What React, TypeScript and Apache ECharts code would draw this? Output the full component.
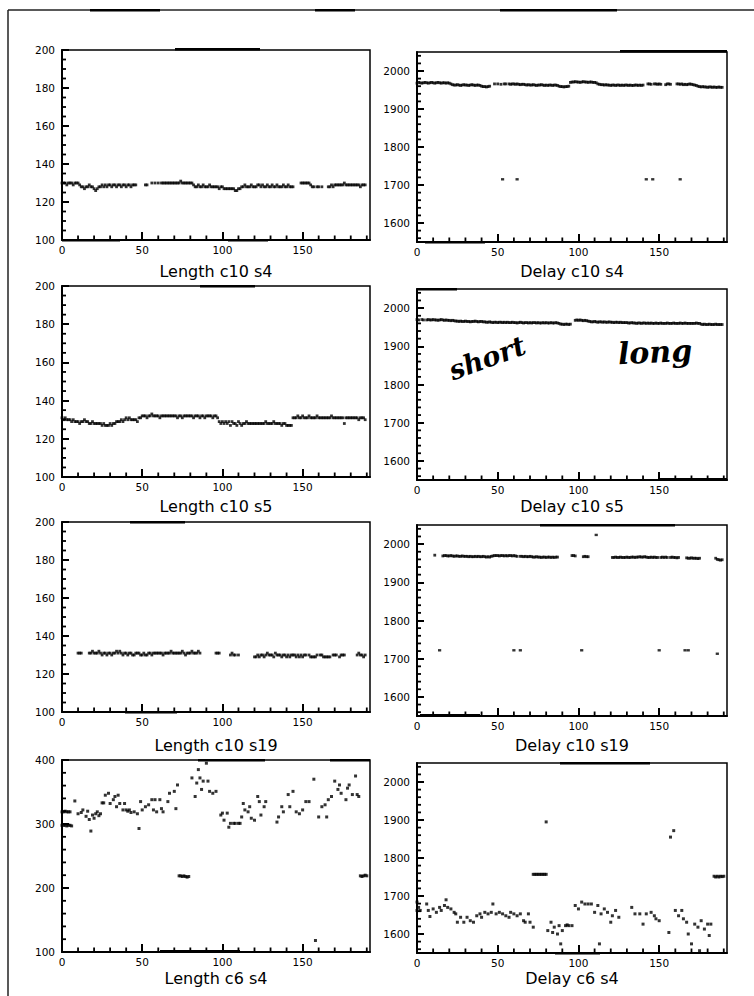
import React, { useEffect, useRef } from 'react';
import * as echarts from 'echarts';

// ---------- data (index = x value 0..189, null = no point) ----------
const lenC10S4: (number | null)[] = [
  130,130,130,129,130,130,130,129,130,130,
  130,129,128,128,127,128,128,129,128,128,
  127,126,127,128,128,129,128,129,128,129,
  129,128,129,129,128,129,129,128,129,129,
  128,129,129,128,129,129,129,null,null,null,
  null,null,129,129,null,null,130,null,130,null,
  130,null,130,130,130,130,130,130,130,130,
  130,130,130,130,131,130,130,130,130,130,
  130,130,129,128,128,129,128,128,129,128,
  128,128,129,128,128,128,128,128,127,128,
  128,127,127,127,127,127,127,127,126,126,
  127,127,128,128,129,128,128,128,129,128,
  128,128,129,129,128,129,128,128,129,128,
  128,129,128,128,129,128,128,128,129,128,
  128,129,128,128,128,null,null,null,null,130,
  130,130,130,130,130,129,128,128,null,128,
  128,null,128,null,null,null,128,128,129,128,
  129,129,129,129,129,129,130,129,129,129,
  129,129,129,129,129,129,128,129,129,129,
];

const delayC10S4: (number | null)[] = [
  1968,1970,1969,1968,1969,1970,1969,1968,1969,1970,
  1969,1968,1969,1970,1969,1968,1969,1969,1968,1969,
  1968,1966,1964,1963,1963,1964,1963,1962,1963,1964,
  1963,1963,1962,1963,1964,1963,1962,1963,1963,1962,
  1960,1959,1959,1958,1959,1960,null,null,1966,null,
  1966,null,1965,null,1966,1966,null,1966,1965,1966,
  1966,1965,1966,1965,1964,1965,1965,1964,1963,1964,
  1963,1963,1964,1963,1962,1963,1963,1964,1963,1962,
  1963,1962,1963,1963,1962,1963,1963,1962,1960,1959,
  1959,1958,1959,1959,1960,1970,1971,1971,1972,1971,
  1971,1970,1971,1972,1971,1971,1970,1971,1971,1970,
  1970,1969,1966,1965,1964,1964,1963,1964,1963,1963,
  1962,1963,1963,1962,1963,1963,1962,1963,1962,1963,
  1963,1962,1963,1962,1962,1963,1963,1962,1963,1962,
  1963,null,null,1966,1966,1965,null,1966,1966,1965,
  1966,1965,null,null,1964,1966,1966,1965,null,null,
  null,1966,1966,1965,1966,1964,1965,1964,1965,1966,
  1965,1964,1963,1962,1960,1959,1958,1959,1958,1958,
  1957,1958,1958,1957,1958,1957,1957,1958,1957,1957,
];
const delayC10S4Out: [number, number][] = [[53,1715],[62,1715],[142,1715],[146,1715],[163,1715]];

const lenC10S5: (number | null)[] = [
  131,130,131,130,130,130,129,130,129,129,
  129,128,129,129,130,129,129,128,128,129,
  128,128,128,128,128,127,128,127,127,127,
  128,127,128,128,129,129,129,130,129,130,
  131,130,131,130,130,130,130,129,131,131,
  132,132,132,131,132,132,133,132,132,132,
  132,131,132,132,132,132,132,132,132,132,
  132,132,131,132,132,131,132,132,132,132,
  132,132,131,132,132,132,131,132,132,131,
  132,132,132,132,131,132,132,131,129,128,
  129,128,129,128,129,127,129,128,128,127,
  129,128,127,128,128,129,128,128,128,128,
  128,128,128,128,128,128,128,129,128,128,
  128,128,129,128,128,128,128,127,128,128,
  127,127,127,127,131,131,131,132,131,131,
  132,131,131,131,132,131,131,131,131,132,
  131,131,131,131,131,131,131,131,132,131,
  131,131,131,131,131,131,128,131,131,131,
  131,131,131,131,131,130,131,131,131,130,
];

const delayC10S5: (number | null)[] = [
  1970,1969,null,1970,1969,null,1969,1970,1969,1969,
  1970,1969,1969,1968,1969,1970,1969,1968,1969,1968,
  1968,1967,1968,1967,1966,1966,1965,1966,1965,1965,
  1966,1965,1965,1964,1965,1965,1966,1965,1964,1965,
  1965,1964,1964,1963,1963,1964,1963,1962,1963,1963,
  1962,1963,1963,1962,1963,1962,1963,1962,1962,1963,
  1962,1962,1961,1962,1963,1962,1961,1962,1962,1961,
  1962,1961,1962,1962,1961,1962,1961,1961,1962,1961,
  1962,1961,1961,1962,1961,1961,1962,1961,1960,1958,
  1958,1957,1958,1958,1957,1958,null,null,1968,1969,
  1968,1969,1968,1967,1968,1967,1966,1965,1964,1964,
  1965,1964,1963,1964,1964,1963,1964,1963,1963,1964,
  1963,1963,1962,1963,1963,1962,1963,1962,1962,1962,
  1962,1961,1961,1962,1961,1961,1960,1961,1961,1960,
  1961,1961,1960,1961,1960,1961,1960,1960,1961,1960,
  1960,1961,1960,1960,1960,1961,1960,1960,1960,1961,
  1960,1960,1960,1961,1960,1960,1961,1960,1960,1960,
  1960,1960,1960,1961,1960,1960,1958,1957,1958,1957,
  1957,1958,1957,1957,1957,1958,1957,1957,1957,1957,
];

const lenC10S19: (number | null)[] = [
  null,null,null,null,null,null,null,null,null,null,
  131,131,131,null,null,null,null,131,131,132,
  131,131,131,132,131,130,131,131,130,131,
  131,130,131,131,132,131,132,131,130,131,
  131,130,131,131,130,130,131,131,131,130,
  130,131,130,130,131,131,130,131,131,131,
  131,131,131,130,131,131,131,131,132,131,
  131,131,131,131,131,132,131,130,131,131,
  131,132,131,131,131,132,131,null,null,null,
  null,null,null,null,null,null,131,131,131,null,
  null,null,null,null,null,130,131,130,130,null,
  130,null,null,null,null,null,null,null,null,null,
  129,129,130,129,130,130,129,130,131,130,
  130,130,129,131,130,130,130,129,130,130,
  129,130,129,130,130,130,129,130,129,130,
  129,130,130,null,130,129,129,129,129,130,
  null,130,130,129,129,129,129,129,null,130,
  130,130,null,129,130,130,130,null,null,null,
  null,null,null,null,130,131,130,130,129,130,
];

const delayC10S19: (number | null)[] = [
  null,null,null,null,null,null,null,null,null,null,
  null,1971,null,null,null,null,1969,1970,1970,1969,
  1969,1970,1969,1968,1969,1969,1968,1968,1969,1968,
  1968,1968,1967,1968,1967,1967,1968,1967,1968,1967,
  1967,1968,1967,1966,1967,1966,1968,1969,1970,1970,
  1970,1969,1970,1970,1969,1970,1969,1970,1970,1969,
  1970,1969,1968,null,1968,1968,1967,1968,1967,1967,
  1968,1967,1966,1966,1967,1966,1966,1965,1966,1966,
  1965,1966,1966,1965,1966,1965,1966,1966,null,null,
  null,null,null,null,null,null,1970,1970,1969,null,
  null,null,null,1967,1968,1967,1967,null,null,null,
  null,null,null,null,null,null,null,null,null,null,
  null,1965,1965,1966,1965,1965,1966,1965,1965,1965,
  1966,1965,1965,1966,1966,1965,1966,1966,1967,1966,
  1966,1967,1966,1965,1965,1966,1965,1966,1965,1965,
  null,1965,1966,1965,1966,1965,null,1965,1966,1965,
  1965,1964,1965,null,null,null,null,1964,1963,1963,
  1964,1963,1963,1963,1962,1963,null,null,null,null,
  null,null,null,null,null,1963,1960,1959,1958,1959,
];
const delayC10S19Out: [number, number][] = [
  [14,1722],[60,1722],[64,1722],[102,1722],[150,1722],[166,1722],[168,1722],[186,1713],[111,2024],
];

const lenC6S4: [number, number][] = [
  [0,319],[1,319],[2,320],[3,319],[4,319],[5,319],
  [0,298],[1,298],[2,298],[3,297],[4,298],[5,298],[6,297],
  [8,336],[10,316],[12,318],[13,322],[15,312],[16,320],[17,307],[18,289],[19,314],[20,309],[21,316],[22,319],[23,313],[24,316],
  [25,333],[26,333],[27,345],[29,348],[30,332],[32,338],[33,343],[34,327],[35,345],[36,332],[38,322],[39,332],[40,322],
  [41,320],[42,322],[43,318],[45,319],[47,316],[48,293],[49,335],[50,322],[52,327],[54,330],[56,338],[57,322],[58,338],
  [59,319],[61,338],[62,324],[63,319],[66,335],[67,348],[70,351],[71,324],[72,361],
  [73,219],[74,219],[75,218],[76,219],[77,218],[78,217],[79,218],
  [81,372],[83,343],[84,364],[85,385],[86,372],[87,354],[88,367],[90,395],[91,367],[92,351],[94,348],[96,351],
  [99,314],[100,317],[101,306],[103,317],[104,295],[105,301],[107,301],[108,301],[110,301],[111,301],[112,311],
  [113,332],[114,322],[116,319],[117,327],[118,309],[120,306],[122,343],[123,335],[124,314],[126,327],[127,335],
  [134,303],[135,311],[137,327],[138,319],[141,346],[142,327],[144,351],[146,319],[148,316],[150,322],[152,335],
  [154,335],[157,370],[158,118],[160,311],[162,327],[164,330],[165,311],[166,338],[168,343],[170,367],[172,354],
  [173,361],[174,348],[177,338],[178,356],[179,361],[181,346],[183,375],[184,346],[185,343],
  [186,219],[187,218],[188,219],[189,220],[190,219],
];

const delayC6S4: [number, number][] = [
  [0,1684],[0,1662],[1,1670],[2,1662],[6,1679],[7,1662],[8,1646],[10,1666],[12,1657],[14,1670],[15,1662],
  [17,1675],[18,1690],[19,1670],[21,1666],[23,1657],[24,1653],[25,1631],[27,1644],[29,1631],[31,1644],
  [33,1635],[35,1631],[37,1648],[39,1653],[40,1644],[42,1657],[44,1653],[46,1657],[47,1679],[49,1653],
  [51,1657],[53,1653],[55,1648],[57,1644],[58,1657],[60,1653],[62,1648],[64,1653],[66,1635],[67,1631],
  [69,1653],[70,1631],[72,1618],
  [72,1757],[73,1757],[74,1757],[75,1757],[76,1757],[77,1757],[78,1757],[79,1757],[80,1757],
  [80,1895],
  [81,1609],[83,1631],[84,1604],[85,1618],[87,1600],[88,1622],[89,1574],[90,1609],[92,1622],[93,1624],
  [94,1622],[96,1622],
  [98,1675],[100,1666],[102,1684],[104,1679],[106,1679],[108,1679],[110,1657],[112,1675],[113,1574],
  [114,1653],[116,1666],[118,1657],[120,1631],[121,1648],[123,1662],[125,1644],
  [133,1670],[135,1653],[138,1653],[140,1626],[142,1653],[145,1657],[147,1648],[148,1640],[150,1635],
  [156,1604],[157,1855],[159,1872],[160,1662],[162,1648],[164,1662],[165,1640],[167,1631],[168,1600],
  [170,1574],[172,1626],[174,1618],[175,1556],[176,1635],[178,1613],[180,1626],[181,1596],[182,1626],
  [184,1752],[185,1750],[186,1752],[187,1750],[188,1752],[189,1751],[190,1752],
];

const titles = [
  'Length c10 s4', 'Delay c10 s4',
  'Length c10 s5', 'Delay c10 s5',
  'Length c10 s19', 'Delay c10 s19',
  'Length c6 s4', 'Delay c6 s4',
];

const xLabels = [0, 50, 100, 150];
const xMinorTicks = [10, 20, 30, 40, 60, 70, 80, 90, 110, 120, 130, 140, 160, 170, 180, 190];
const lenLabels = [100, 120, 140, 160, 180, 200];
const lenWideLabels = [100, 200, 300, 400];
const delayLabels = [1600, 1700, 1800, 1900, 2000];

// ---------- layout ----------
const colX = [{ x: 62, w: 308 }, { x: 417, w: 310 }];
const rowsLeft = [{ t: 50, h: 190 }, { t: 286, h: 191 }, { t: 522, h: 190 }, { t: 760, h: 192 }];
const rowsRight = [{ t: 52, h: 190 }, { t: 289, h: 191 }, { t: 525, h: 191 }, { t: 763, h: 190 }];
const titleY = [271, 506, 745, 978];

const FONT = 'DejaVu Sans';
const X_MIN = 0;
const X_MAX = 192;

function steps(a: number, b: number, s: number, skip: number[]) {
  const out: number[] = [];
  for (let v = a; v <= b + 1e-9; v += s) if (!skip.includes(v)) out.push(v);
  return out;
}

function toPairs(arr: (number | null)[]): [number, number][] {
  const out: [number, number][] = [];
  arr.forEach((v, i) => { if (v != null) out.push([i, v]); });
  return out;
}

type YSpec = { min: number; max: number; labels: number[]; minor: number[] };
const ySpecLen: YSpec = { min: 100, max: 200, labels: lenLabels, minor: steps(105, 195, 5, lenLabels) };
const ySpecLenWide: YSpec = { min: 100, max: 400, labels: lenWideLabels, minor: steps(120, 380, 20, lenWideLabels) };
const ySpecDelay: YSpec = { min: 1550, max: 2050, labels: delayLabels, minor: steps(1560, 2040, 20, delayLabels) };

const panelData: { main: [number, number][]; extra: [number, number][]; y: YSpec; size: number }[] = [
  { main: toPairs(lenC10S4), extra: [], y: ySpecLen, size: 2.8 },
  { main: toPairs(delayC10S4), extra: delayC10S4Out, y: ySpecDelay, size: 2.8 },
  { main: toPairs(lenC10S5), extra: [], y: ySpecLen, size: 2.8 },
  { main: toPairs(delayC10S5), extra: [], y: ySpecDelay, size: 2.8 },
  { main: toPairs(lenC10S19), extra: [], y: ySpecLen, size: 2.8 },
  { main: toPairs(delayC10S19), extra: delayC10S19Out, y: ySpecDelay, size: 2.8 },
  { main: lenC6S4, extra: [], y: ySpecLenWide, size: 3 },
  { main: delayC6S4, extra: [], y: ySpecDelay, size: 3 },
];

// minor tick marks drawn through the axes' own scales (custom series)
function minorTickSeries(i: number, y: YSpec) {
  // rows: [x, y, direction (0 = up from x axis, 1 = right from y axis)]
  const rows: number[][] = [];
  xMinorTicks.forEach((v) => rows.push([v, y.min, 0]));
  y.minor.forEach((v) => rows.push([X_MIN, v, 1]));
  return {
    type: 'custom', xAxisIndex: i, yAxisIndex: i, silent: true, clip: false,
    data: rows,
    renderItem: (_params: any, api: any) => {
      const p = api.coord([api.value(0), api.value(1)]);
      const dir = api.value(2);
      const shape = dir === 0
        ? { x1: p[0], y1: p[1], x2: p[0], y2: p[1] - 4.5 }
        : { x1: p[0], y1: p[1], x2: p[0] + 4, y2: p[1] };
      return { type: 'line', shape, style: { stroke: '#000', lineWidth: 1.8 } };
    },
  };
}

function buildOption() {
  const grid: any[] = [];
  const xAxis: any[] = [];
  const yAxis: any[] = [];
  const series: any[] = [];
  const graphic: any[] = [];
  const black = '#000';
  const fmt = (v: number) => String(v);

  panelData.forEach((p, i) => {
    const col = i % 2;
    const row = Math.floor(i / 2);
    const r = col === 0 ? rowsLeft[row] : rowsRight[row];
    const c = colX[col];
    grid.push({
      left: c.x, top: r.t, width: c.w, height: r.h,
      show: true, borderColor: black, borderWidth: 1.5, backgroundColor: 'transparent',
    });
    xAxis.push({
      type: 'value', gridIndex: i, min: X_MIN, max: X_MAX, position: 'bottom',
      axisLine: { show: true, onZero: false, lineStyle: { color: black, width: 2 } },
      axisTick: { show: true, inside: true, length: 8, customValues: xLabels, lineStyle: { color: black, width: 2 } },
      axisLabel: { show: true, customValues: xLabels, formatter: fmt, color: black, fontFamily: FONT, fontSize: 10.5, margin: 4 },
      splitLine: { show: false },
    });
    yAxis.push({
      type: 'value', gridIndex: i, min: p.y.min, max: p.y.max, position: 'left',
      axisLine: { show: true, onZero: false, lineStyle: { color: black, width: 2 } },
      axisTick: { show: true, inside: true, length: 7, customValues: p.y.labels, lineStyle: { color: black, width: 2 } },
      axisLabel: { show: true, customValues: p.y.labels, formatter: fmt, color: black, fontFamily: FONT, fontSize: 10.5, margin: 7 },
      splitLine: { show: false },
    });
    series.push({
      type: 'scatter', xAxisIndex: i, yAxisIndex: i,
      symbol: 'rect', symbolSize: p.size, itemStyle: { color: black },
      data: p.main, silent: true,
    });
    if (p.extra.length) {
      series.push({
        type: 'scatter', xAxisIndex: i, yAxisIndex: i,
        symbol: 'rect', symbolSize: [3.2, 2.4], itemStyle: { color: black },
        data: p.extra, silent: true,
      });
    }
    series.push(minorTickSeries(i, p.y));
    graphic.push({
      type: 'text', x: c.x + c.w / 2, y: titleY[row],
      style: { text: titles[i], textAlign: 'center', textVerticalAlign: 'middle', fontFamily: FONT, fontSize: 16, fill: black },
    });
  });

  // page frame of the scanned sheet
  graphic.push({ type: 'line', shape: { x1: 8, y1: 10, x2: 754, y2: 10 }, style: { stroke: '#222', lineWidth: 1.5 } });
  graphic.push({ type: 'line', shape: { x1: 8, y1: 10, x2: 8, y2: 996 }, style: { stroke: '#222', lineWidth: 1.5 } });
  // heavy scan marks on the sheet and frame edges
  const marks: [number, number, number][] = [
    [90, 9, 70], [315, 9, 40], [500, 9, 117],
    [175, 48, 85], [620, 50, 107],
    [62, 239, 58], [228, 239, 40], [425, 241, 60],
    [200, 285, 55], [417, 288, 40], [660, 478, 67],
    [130, 521, 55], [540, 524, 135], [125, 711, 52], [420, 714, 60],
    [198, 759, 67], [330, 759, 40], [560, 762, 90], [160, 950, 80], [555, 952, 45],
  ];
  marks.forEach(([x, y, w]) => graphic.push({ type: 'rect', shape: { x, y, width: w, height: 2.6 }, style: { fill: black } }));

  // handwritten annotations on "Delay c10 s5"
  graphic.push({
    type: 'text', x: 487, y: 358, rotation: 0.35,
    style: { text: 'short', textAlign: 'center', textVerticalAlign: 'middle', fontFamily: 'DejaVu Serif', fontStyle: 'italic', fontWeight: 'bold', fontSize: 27, fill: black },
  });
  graphic.push({
    type: 'text', x: 655, y: 352, rotation: 0.05,
    style: { text: 'long', textAlign: 'center', textVerticalAlign: 'middle', fontFamily: 'DejaVu Serif', fontStyle: 'italic', fontWeight: 'bold', fontSize: 30, fill: black },
  });

  return {
    animation: false,
    backgroundColor: '#fff',
    grid, xAxis, yAxis, series, graphic,
  };
}

export default function App() {
  const ref = useRef<HTMLDivElement>(null);
  useEffect(() => {
    document.body.style.margin = '0';
    const chart = echarts.init(ref.current!, null, { renderer: 'svg' });
    chart.setOption(buildOption() as any);
    return () => chart.dispose();
  }, []);
  return <div ref={ref} style={{ width: 754, height: 996, background: '#fff' }} />;
}
